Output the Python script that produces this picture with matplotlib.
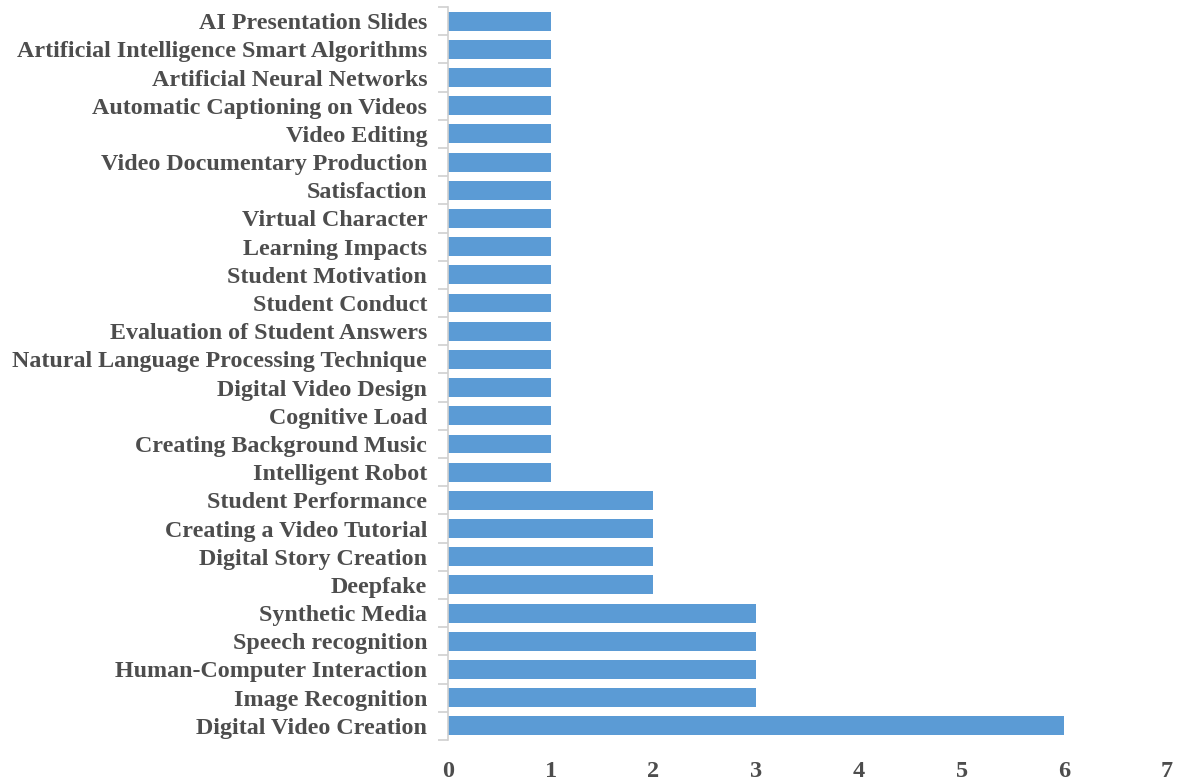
import numpy as np
import matplotlib.pyplot as plt

# Categories listed bottom to top
topics = [
    'Digital Video Creation', 'Image Recognition', 'Human-Computer Interaction',
    'Speech recognition', 'Synthetic Media', 'Deepfake', 'Digital Story Creation',
    'Creating a Video Tutorial', 'Student Performance', 'Intelligent Robot',
    'Creating Background Music', 'Cognitive Load', 'Digital Video Design',
    'Natural Language Processing Technique', 'Evaluation of Student Answers',
    'Student Conduct', 'Student Motivation', 'Learning Impacts',
    'Virtual Character', 'Satisfaction', 'Video Documentary Production',
    'Video Editing', 'Automatic Captioning on Videos', 'Artificial Neural Networks',
    'Artificial Intelligence Smart Algorithms', 'AI Presentation Slides',
]
counts = [6, 3, 3, 3, 3, 2, 2, 2, 2, 1, 1, 1, 1, 1, 1, 1, 1, 1, 1, 1, 1, 1, 1, 1, 1, 1]
x_ticks = [0, 1, 2, 3, 4, 5, 6, 7]

text_color = '#4d4d4d'
plt.rcParams['font.family'] = ['Liberation Serif', 'DejaVu Serif']

fig = plt.figure(figsize=(11.8, 7.83), dpi=100)
ax = fig.add_axes([0.3797, 0.055, 0.6093, 0.936])

y = np.arange(len(topics))
ax.barh(y, counts, height=0.67, color='#5B9BD5')

ax.set_xlim(0, 7)
ax.set_ylim(-0.5, len(topics) - 0.5)
ax.set_xticks(x_ticks)
ax.set_xticklabels([str(t) for t in x_ticks], fontsize=17.5, fontweight='bold', color=text_color)
ax.tick_params(axis='x', length=0, pad=15)

ax.set_yticks(y)
ax.set_yticklabels(topics, fontsize=17.3, fontweight='bold', color=text_color)
ax.tick_params(axis='y', which='major', length=0, pad=15)
ax.set_yticks(np.arange(-0.5, len(topics)), minor=True)
ax.tick_params(axis='y', which='minor', length=7, color='#d0d0d0', width=1.2)

for s in ['top', 'right', 'bottom']:
    ax.spines[s].set_visible(False)
ax.spines['left'].set_color('#d0d0d0')
ax.spines['left'].set_linewidth(1.2)

fig.savefig('out.png', dpi=100)
